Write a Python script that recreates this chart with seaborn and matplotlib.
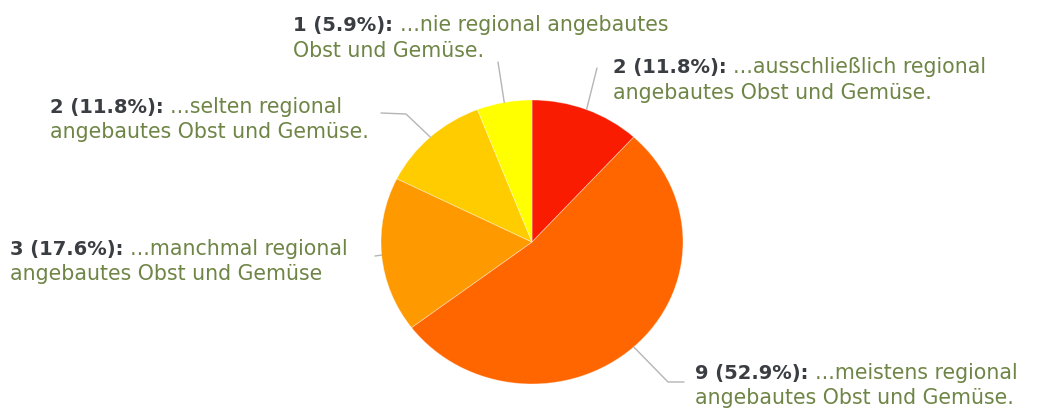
import matplotlib
matplotlib.use("Agg")
import matplotlib.pyplot as plt
import seaborn as sns
import numpy as np

# ---- data ----
categories = ["...ausschließlich regional angebautes Obst und Gemüse.",
              "...meistens regional angebautes Obst und Gemüse.",
              "...manchmal regional angebautes Obst und Gemüse",
              "...selten regional angebautes Obst und Gemüse.",
              "...nie regional angebautes Obst und Gemüse."]
counts = [2, 9, 3, 2, 1]
percent_labels = ["11.8%", "52.9%", "17.6%", "11.8%", "5.9%"]
label_line1 = ["...ausschließlich regional", "...meistens regional",
               "...manchmal regional", "...selten regional",
               "...nie regional angebautes"]
label_line2 = ["angebautes Obst und Gemüse.", "angebautes Obst und Gemüse.",
               "angebautes Obst und Gemüse", "angebautes Obst und Gemüse.",
               "Obst und Gemüse."]
colors = ["#f91c00", "#ff6600", "#ff9900", "#ffcc00", "#ffff00"]

sns.set_theme(style="white")
plt.rcParams['font.family'] = ['DejaVu Sans']

W, H = 1040, 412
fig = plt.figure(figsize=(W / 100, H / 100), dpi=100)
fig.patch.set_facecolor("white")

# pie axes: center (532,242), rx 151, ry 142 (pixels from top-left)
cx, cy, rx, ry = 532, 242, 151, 142
ax = fig.add_axes([(cx - rx) / W, (H - cy - ry) / H, 2 * rx / W, 2 * ry / H])
wedges, _ = ax.pie(counts, colors=colors, startangle=90, counterclock=False,
                   radius=1.0, wedgeprops=dict(linewidth=0.6, edgecolor=(1, 1, 1, 0.4)))
ax.set_xlim(-1, 1)
ax.set_ylim(-1, 1)
ax.set_aspect('auto')
ax.axis('off')

# overlay axes in pixel coordinates
ov = fig.add_axes([0, 0, 1, 1])
ov.set_xlim(0, W)
ov.set_ylim(H, 0)
ov.axis('off')
ov.patch.set_alpha(0)

# layout: label start x, baselines, leader line paths
text_x = [613, 695, 10, 50, 293]
base1 = [73, 379, 255, 113, 31]
line_gap = 25.5
leader_ends = [[(597, 68)],
               [(668, 382), (684, 382)],
               [(375, 256)],
               [(406, 114), (381, 113)],
               [(498, 62)]]

fs_bold = 14
fs_reg = 14.8
dark = "#3a3d42"
green = "#6f8546"

fig.canvas.draw()
renderer = fig.canvas.get_renderer()
for i, w in enumerate(wedges):
    prefix = f"{counts[i]} ({percent_labels[i]}): "
    t = ov.text(text_x[i], base1[i], prefix, fontsize=fs_bold, fontweight='bold',
                color=dark, va='baseline', ha='left')
    bb = t.get_window_extent(renderer=renderer)
    ov.text(bb.x1, base1[i], label_line1[i], fontsize=fs_reg, color=green,
            va='baseline', ha='left')
    ov.text(text_x[i], base1[i] + line_gap, label_line2[i], fontsize=fs_reg,
            color=green, va='baseline', ha='left')
    # leader line
    mid = np.deg2rad((w.theta1 + w.theta2) / 2)
    px = cx + rx * np.cos(mid)
    py = cy - ry * np.sin(mid)
    pts = [(px, py)] + leader_ends[i]
    xs, ys = zip(*pts)
    ov.plot(xs, ys, color="#b5b5b5", linewidth=1.0, zorder=0)

fig.savefig("out.png", dpi=100, facecolor="white")
